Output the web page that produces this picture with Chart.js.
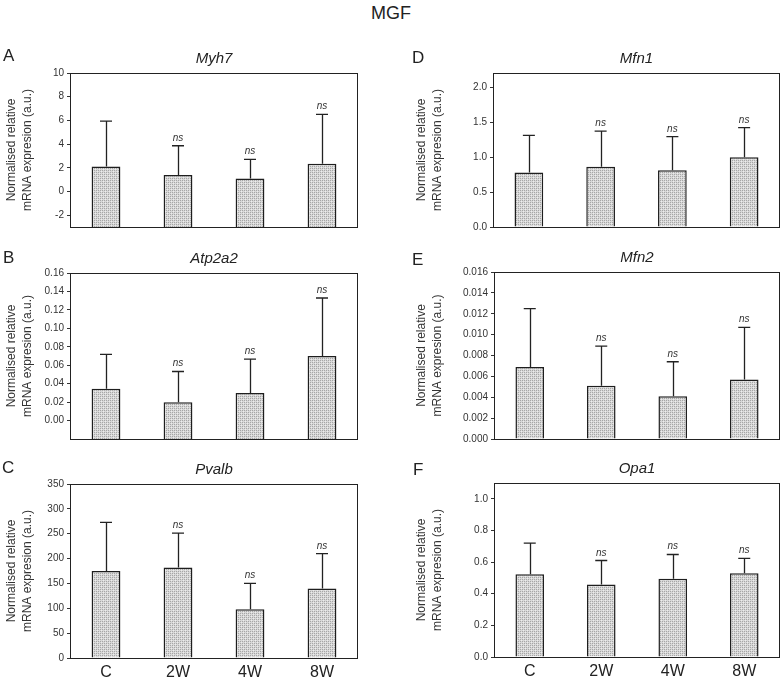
<!DOCTYPE html>
<html><head><meta charset="utf-8">
<script src="https://cdn.jsdelivr.net/npm/chart.js@4.4.1/dist/chart.umd.min.js"></script>
<style>
html,body{margin:0;padding:0;background:#fff;}
body{width:782px;height:681px;position:relative;overflow:hidden;font-family:"Liberation Sans",Arial,sans-serif;}
canvas{position:absolute;}
#mgf{position:absolute;left:0;width:782px;top:3px;text-align:center;font-size:18px;color:#222;}
</style></head><body>
<div id="mgf">MGF</div>
<script>
// ---------- data ----------
const categories = ['C', '2W', '4W', '8W'];
const nsMarks = ['', 'ns', 'ns', 'ns'];

const myh7Mean = [2.11, 1.40, 1.09, 2.34];
const myh7Upper = [5.94, 3.86, 2.71, 6.51];
const myh7Ticks = [-2, 0, 2, 4, 6, 8, 10];
const myh7TickLabels = ['-2', '0', '2', '4', '6', '8', '10'];

const atp2a2Mean = [0.0344, 0.0199, 0.0300, 0.0699];
const atp2a2Upper = [0.0717, 0.0532, 0.0666, 0.1329];
const atp2a2Ticks = [0, 0.02, 0.04, 0.06, 0.08, 0.10, 0.12, 0.14, 0.16];
const atp2a2TickLabels = ['0.00', '0.02', '0.04', '0.06', '0.08', '0.10', '0.12', '0.14', '0.16'];

const pvalbMean = [175, 182, 98, 140];
const pvalbUpper = [273, 251, 150, 210];
const pvalbTicks = [0, 50, 100, 150, 200, 250, 300, 350];
const pvalbTickLabels = ['0', '50', '100', '150', '200', '250', '300', '350'];

const mfn1Mean = [0.78, 0.86, 0.81, 0.995];
const mfn1Upper = [1.31, 1.37, 1.29, 1.42];
const mfn1Ticks = [0, 0.5, 1.0, 1.5, 2.0];
const mfn1TickLabels = ['0.0', '0.5', '1.0', '1.5', '2.0'];

const mfn2Mean = [0.0069, 0.0051, 0.0041, 0.0057];
const mfn2Upper = [0.0125, 0.0089, 0.0074, 0.0107];
const mfn2Ticks = [0, 0.002, 0.004, 0.006, 0.008, 0.010, 0.012, 0.014, 0.016];
const mfn2TickLabels = ['0.000', '0.002', '0.004', '0.006', '0.008', '0.010', '0.012', '0.014', '0.016'];

const opa1Mean = [0.523, 0.458, 0.494, 0.530];
const opa1Upper = [0.72, 0.61, 0.648, 0.624];
const opa1Ticks = [0, 0.2, 0.4, 0.6, 0.8, 1.0];
const opa1TickLabels = ['0.0', '0.2', '0.4', '0.6', '0.8', '1.0'];

const yTitle = ['Normalised relative', 'mRNA expresion (a.u.)'];

// ---------- layout (page coordinates) ----------
const panels = [
  {letter:'A', gene:'Myh7',   mean:myh7Mean,   upper:myh7Upper,   ticks:myh7Ticks,   labels:myh7TickLabels,   min:-3,    max:10,
   canvas:[0,30,390,215],  area:[70,73,358,227],  axisLeft:0,   letterPos:[3,61],  xLabels:false},
  {letter:'B', gene:'Atp2a2', mean:atp2a2Mean, upper:atp2a2Upper, ticks:atp2a2Ticks, labels:atp2a2TickLabels, min:-0.02, max:0.16,
   canvas:[0,240,390,215], area:[70,273,358,439], axisLeft:0,   letterPos:[3,263], xLabels:false},
  {letter:'C', gene:'Pvalb',  mean:pvalbMean,  upper:pvalbUpper,  ticks:pvalbTicks,  labels:pvalbTickLabels,  min:0,     max:350,
   canvas:[0,445,390,236], area:[70,484,358,658], axisLeft:0,   letterPos:[2,473], xLabels:true},
  {letter:'D', gene:'Mfn1',   mean:mfn1Mean,   upper:mfn1Upper,   ticks:mfn1Ticks,   labels:mfn1TickLabels,   min:0,     max:2.2,
   canvas:[390,30,392,215], area:[493,73,780,227], axisLeft:410, letterPos:[412,63], xLabels:false},
  {letter:'E', gene:'Mfn2',   mean:mfn2Mean,   upper:mfn2Upper,   ticks:mfn2Ticks,   labels:mfn2TickLabels,   min:0,     max:0.016,
   canvas:[390,240,392,215], area:[494,272,780,439], axisLeft:410, letterPos:[412,265], xLabels:false},
  {letter:'F', gene:'Opa1',   mean:opa1Mean,   upper:opa1Upper,   ticks:opa1Ticks,   labels:opa1TickLabels,   min:0,     max:1.1,
   canvas:[390,445,392,236], area:[494,483,780,657], axisLeft:410, letterPos:[413,475], xLabels:true}
];

const FONT = '"Liberation Sans", Arial, sans-serif';

function makePattern(){
  const c = document.createElement('canvas');
  c.width = 4; c.height = 4;
  const g = c.getContext('2d');
  g.fillStyle = '#d8d8d8'; g.fillRect(0,0,4,4);
  g.fillStyle = '#ececec'; g.fillRect(1,1,1,1); g.fillRect(3,3,1,1);
  g.fillStyle = '#a6a6a6'; g.fillRect(0,0,1,1); g.fillRect(2,2,1,1); g.fillRect(2,0,1,1); g.fillRect(0,2,1,1);
  return g.createPattern(c, 'repeat');
}

const decorPlugin = {
  id: 'decor',
  afterDatasetsDraw(chart){
    const p = chart.options.plugins.decor.panel;
    const ctx = chart.ctx;
    const ys = chart.scales.y;
    const meta = chart.getDatasetMeta(0);
    ctx.save();
    ctx.strokeStyle = '#222';
    ctx.lineWidth = 1.3;
    ctx.fillStyle = '#333';
    ctx.font = 'italic 10px ' + FONT;
    ctx.textAlign = 'center';
    ctx.textBaseline = 'alphabetic';
    meta.data.forEach((bar, i) => {
      const x = bar.x;
      const yTop = bar.y;
      const yErr = ys.getPixelForValue(p.upper[i]);
      ctx.beginPath();
      ctx.moveTo(Math.round(x)+0.5, yTop);
      ctx.lineTo(Math.round(x)+0.5, yErr);
      ctx.moveTo(x - 6, yErr);
      ctx.lineTo(x + 6, yErr);
      ctx.stroke();
      if (nsMarks[i]) ctx.fillText(nsMarks[i], x, yErr - 5);
    });
    ctx.restore();
  },
  afterDraw(chart){
    const p = chart.options.plugins.decor.panel;
    const ctx = chart.ctx;
    const a = chart.chartArea;
    ctx.save();
    ctx.strokeStyle = '#222';
    ctx.lineWidth = 1;
    ctx.strokeRect(Math.round(a.left)+0.5, Math.round(a.top)+0.5, Math.round(a.right-a.left)-1, Math.round(a.bottom-a.top));
    ctx.fillStyle = '#222';
    ctx.font = 'italic 15px ' + FONT;
    ctx.textAlign = 'center';
    ctx.textBaseline = 'alphabetic';
    ctx.fillText(p.gene, (a.left + a.right)/2, a.top - 10);
    ctx.font = '17px ' + FONT;
    ctx.textAlign = 'left';
    ctx.fillText(p.letter, p.letterPos[0] - p.canvas[0], p.letterPos[1] - p.canvas[1]);
    ctx.restore();
  }
};

const pattern = makePattern();

panels.forEach(p => {
  const [cx, cy, cw, ch] = p.canvas;
  const [L, T, R, B] = p.area;
  const xH = p.xLabels ? (cy + ch - B) : 0;
  const canvas = document.createElement('canvas');
  canvas.width = cw; canvas.height = ch;
  canvas.style.left = cx + 'px'; canvas.style.top = cy + 'px';
  canvas.style.width = cw + 'px'; canvas.style.height = ch + 'px';
  document.body.appendChild(canvas);
  new Chart(canvas, {
    type: 'bar',
    data: {
      labels: categories,
      datasets: [{
        data: p.mean,
        base: p.min,
        backgroundColor: pattern,
        borderColor: '#1e1e1e',
        borderWidth: 1.5,
        borderSkipped: 'start',
        barPercentage: 0.4,
        categoryPercentage: 1.0
      }]
    },
    options: {
      responsive: false,
      animation: false,
      devicePixelRatio: 1,
      layout: { padding: { top: T - cy, left: p.axisLeft - cx, right: cx + cw - R, bottom: cy + ch - B - xH } },
      plugins: {
        legend: { display: false },
        tooltip: { enabled: false },
        title: { display: false },
        decor: { panel: p }
      },
      scales: {
        x: {
          display: p.xLabels,
          offset: true,
          grid: { display: false, drawTicks: false },
          border: { display: false },
          ticks: { color: '#222', font: { family: FONT, size: 16 }, padding: 5, maxRotation: 0 },
          afterFit(s){ s.height = xH; }
        },
        y: {
          min: p.min, max: p.max,
          grid: { drawOnChartArea: false, drawTicks: true, tickLength: 3, color: '#333', tickColor: '#333' },
          border: { display: false },
          ticks: {
            color: '#333', font: { family: FONT, size: 10 }, padding: 3,
            callback: (v, i) => p.labels[i]
          },
          afterBuildTicks(s){ s.ticks = p.ticks.map(v => ({ value: v })); },
          title: { display: true, text: yTitle, color: '#333', font: { family: FONT, size: 12, lineHeight: 1.3 }, padding: { top: 4, bottom: 0 } },
          afterFit(s){ s.width = L - p.axisLeft; }
        }
      }
    },
    plugins: [decorPlugin]
  });
});
</script>
</body></html>
